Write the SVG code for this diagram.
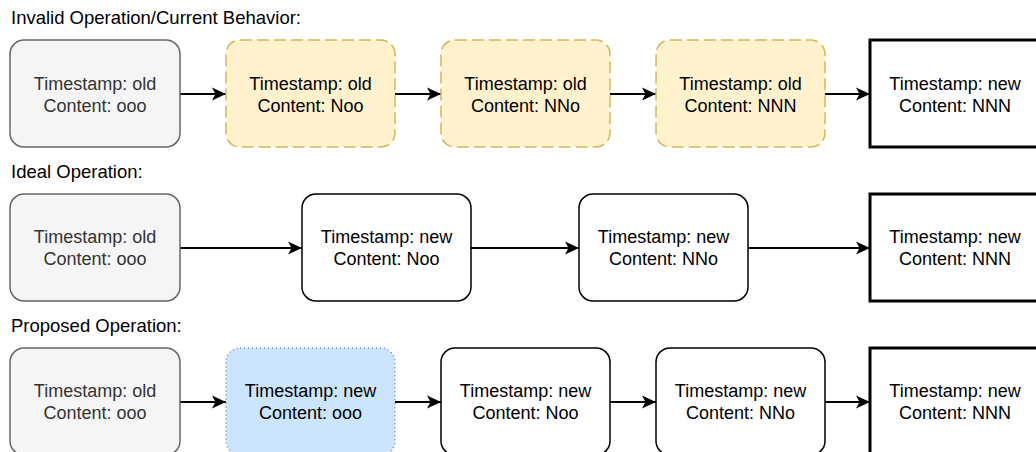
<svg xmlns="http://www.w3.org/2000/svg" width="1036" height="452" viewBox="0 0 1036 452">
<style>
text{font-family:"Liberation Sans",Arial,sans-serif;font-size:18px;}
.c{text-anchor:middle;fill:#000;}
.g{text-anchor:middle;fill:#333333;}
.lbl{fill:#000;font-size:18.5px;}
.old{fill:#f5f5f5;stroke:#666666;stroke-width:1.5;}
.yel{fill:#fff2cc;stroke:#d6b656;stroke-width:1.5;stroke-dasharray:12 5;}
.blu{fill:#cce5ff;stroke:#6c8ebf;stroke-width:1.5;stroke-dasharray:1 3;}
.wht{fill:#fff;stroke:#000;stroke-width:1.5;}
.fin{fill:#fff;stroke:#000;stroke-width:3;}
.e{stroke:#000;stroke-width:2;fill:none;marker-end:url(#ah);}
</style>
<defs>
<marker id="ah" markerWidth="16" markerHeight="14" refX="14" refY="7" orient="auto" markerUnits="userSpaceOnUse">
<path d="M0,0.5 L14,7 L0,13.5 L3.5,7 Z" fill="#000"/>
</marker>
</defs>
<rect width="1036" height="452" fill="#fff"/>
<text class="lbl" x="11" y="24">Invalid Operation/Current Behavior:</text>
<text class="lbl" x="11" y="178">Ideal Operation:</text>
<text class="lbl" x="11" y="332">Proposed Operation:</text>

<g id="connectors">
<line class="e" x1="180" y1="94" x2="226" y2="94"/>
<line class="e" x1="395" y1="94" x2="441" y2="94"/>
<line class="e" x1="610" y1="94" x2="656" y2="94"/>
<line class="e" x1="825" y1="94" x2="870" y2="94"/>
<line class="e" x1="180" y1="248" x2="302" y2="248"/>
<line class="e" x1="471" y1="248" x2="579" y2="248"/>
<line class="e" x1="748" y1="248" x2="870" y2="248"/>
<line class="e" x1="180" y1="402" x2="226" y2="402"/>
<line class="e" x1="395" y1="402" x2="441" y2="402"/>
<line class="e" x1="610" y1="402" x2="656" y2="402"/>
<line class="e" x1="825" y1="402" x2="870" y2="402"/>
</g>

<g id="r1n1"><rect class="old" x="10" y="40" width="170" height="107" rx="14"/><text class="g" x="95" y="90">Timestamp: old</text><text class="g" x="95" y="112">Content: ooo</text></g>
<g id="r1n2"><rect class="yel" x="226" y="40" width="169" height="107" rx="14"/><text class="c" x="310.5" y="90">Timestamp: old</text><text class="c" x="310.5" y="112">Content: Noo</text></g>
<g id="r1n3"><rect class="yel" x="441" y="40" width="169" height="107" rx="14"/><text class="c" x="525.5" y="90">Timestamp: old</text><text class="c" x="525.5" y="112">Content: NNo</text></g>
<g id="r1n4"><rect class="yel" x="656" y="40" width="169" height="107" rx="14"/><text class="c" x="740.5" y="90">Timestamp: old</text><text class="c" x="740.5" y="112">Content: NNN</text></g>
<g id="r1n5"><rect class="fin" x="870" y="40" width="170" height="107"/><text class="c" x="955" y="90">Timestamp: new</text><text class="c" x="955" y="112">Content: NNN</text></g>

<g id="r2n1"><rect class="old" x="10" y="194" width="170" height="107" rx="14"/><text class="g" x="95" y="243">Timestamp: old</text><text class="g" x="95" y="265">Content: ooo</text></g>
<g id="r2n2"><rect class="wht" x="302" y="194" width="169" height="107" rx="14"/><text class="c" x="386.5" y="243">Timestamp: new</text><text class="c" x="386.5" y="265">Content: Noo</text></g>
<g id="r2n3"><rect class="wht" x="579" y="194" width="169" height="107" rx="14"/><text class="c" x="663.5" y="243">Timestamp: new</text><text class="c" x="663.5" y="265">Content: NNo</text></g>
<g id="r2n4"><rect class="fin" x="870" y="194" width="170" height="107"/><text class="c" x="955" y="243">Timestamp: new</text><text class="c" x="955" y="265">Content: NNN</text></g>

<g id="r3n1"><rect class="old" x="10" y="348" width="170" height="107" rx="14"/><text class="g" x="95" y="397">Timestamp: old</text><text class="g" x="95" y="419">Content: ooo</text></g>
<g id="r3n2"><rect class="blu" x="226" y="348" width="169" height="107" rx="14"/><text class="c" x="310.5" y="397">Timestamp: new</text><text class="c" x="310.5" y="419">Content: ooo</text></g>
<g id="r3n3"><rect class="wht" x="441" y="348" width="169" height="107" rx="14"/><text class="c" x="525.5" y="397">Timestamp: new</text><text class="c" x="525.5" y="419">Content: Noo</text></g>
<g id="r3n4"><rect class="wht" x="656" y="348" width="169" height="107" rx="14"/><text class="c" x="740.5" y="397">Timestamp: new</text><text class="c" x="740.5" y="419">Content: NNo</text></g>
<g id="r3n5"><rect class="fin" x="870" y="348" width="170" height="107"/><text class="c" x="955" y="397">Timestamp: new</text><text class="c" x="955" y="419">Content: NNN</text></g>
</svg>
